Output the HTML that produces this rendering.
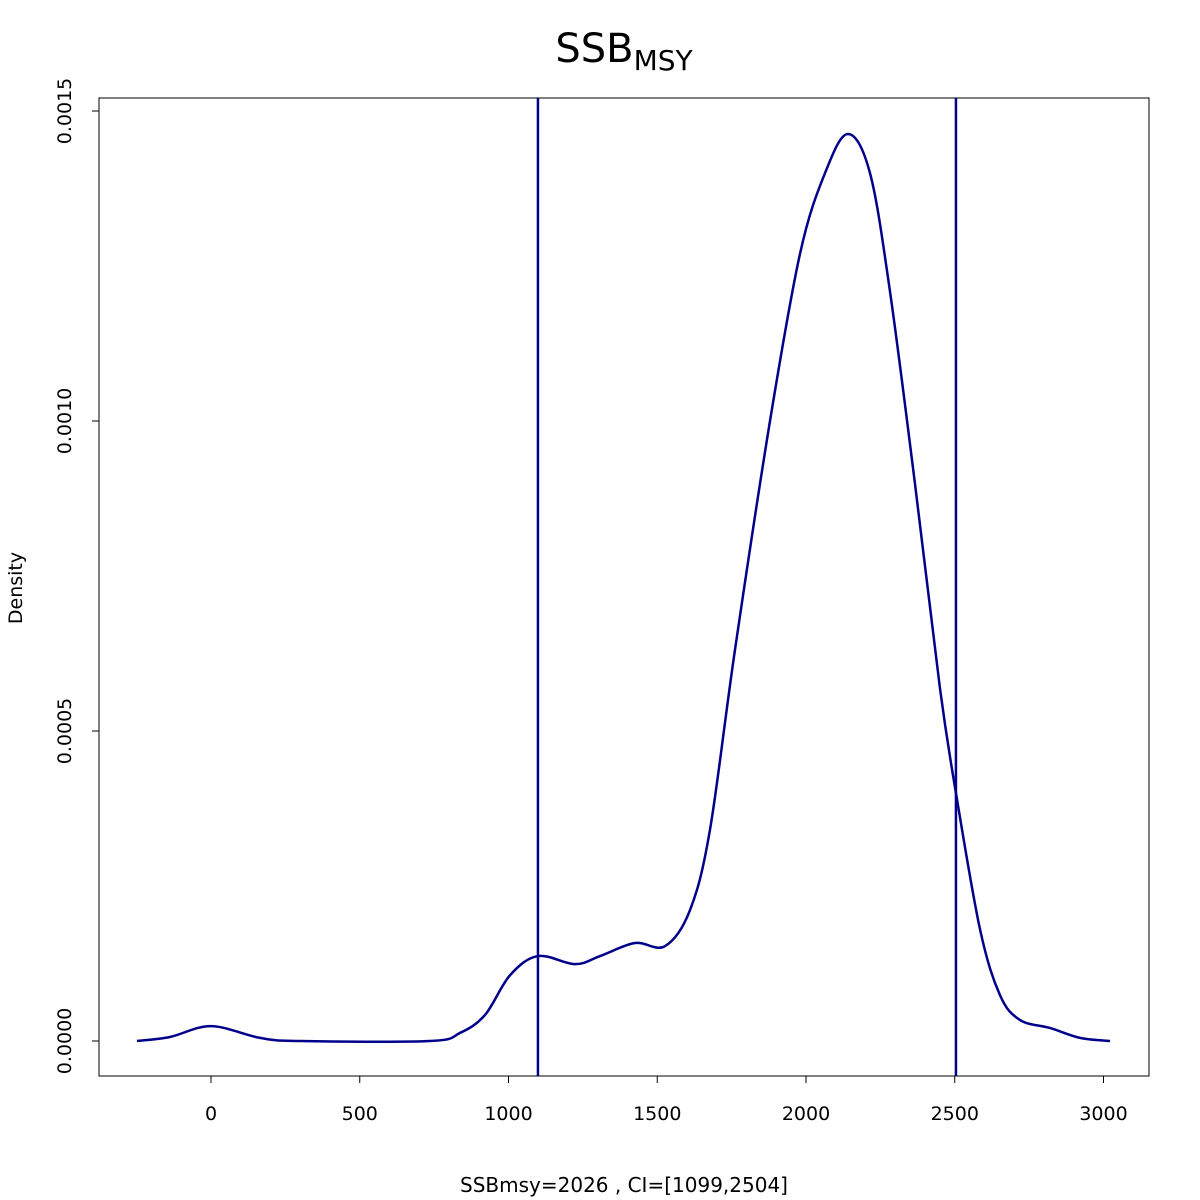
<!DOCTYPE html>
<html><head><meta charset="utf-8"><style>
body{margin:0;background:#fff;}
svg{display:block;font-family:"DejaVu Sans","Liberation Sans",sans-serif;}
</style></head><body>
<svg id="chart" width="1200" height="1200" xmlns="http://www.w3.org/2000/svg">
<text x="624" y="62" text-anchor="middle" font-size="40">SSB<tspan font-size="28" dy="8">MSY</tspan></text>
<rect x="99" y="98" width="1050" height="978" fill="none" stroke="#000" stroke-width="1"/>
<g id="xaxis"></g>
<g id="yaxis"></g>
<g id="series"></g>
<text x="624" y="1192" text-anchor="middle" font-size="20">SSBmsy=2026 , CI=[1099,2504]</text>
<text transform="translate(22,588) rotate(-90)" text-anchor="middle" font-size="19">Density</text>
</svg>
<script>
const xTicks=[0,500,1000,1500,2000,2500,3000];
const yTicks=[0,0.0005,0.0010,0.0015];
const yTickLabels=["0.0000","0.0005","0.0010","0.0015"];
const ciLines=[1099,2504];
const xs=[-249,-138,0,165,300,736,837,921,1005,1099,1224,1308,1425,1526,1610,1677,1761,1879,1980,2064,2141,2215,2282,2366,2450,2504,2585,2652,2719,2820,2921,3022];
const ys=[0,0.0000065,0.000024,0.000005,0,0,0.000013,0.000042,0.000106,0.000137,0.000124,0.000137,0.000158,0.000153,0.000211,0.00034,0.00063,0.00100,0.00127,0.00140,0.001463,0.00140,0.00121,0.00090,0.00057,0.00040,0.00018,0.000074,0.000034,0.000021,0.000005,0];
const NS="http://www.w3.org/2000/svg";
function X(v){return 211+v*0.2975;}
function Y(d){return 1041-d/0.0005*310;}
function mk(tag,attrs,parent){const e=document.createElementNS(NS,tag);for(const k in attrs)e.setAttribute(k,attrs[k]);parent.appendChild(e);return e;}
const xa=document.getElementById('xaxis'),ya=document.getElementById('yaxis'),sr=document.getElementById('series');
mk('line',{x1:X(xTicks[0]),x2:X(xTicks[xTicks.length-1]),y1:1076,y2:1076,stroke:'#000'},xa);
xTicks.forEach(t=>{
  const l=mk('line',{x1:X(t),x2:X(t),y1:1076,y2:1083,stroke:'#000'},xa);
  
  
  const tx=mk('text',{x:X(t),y:1120,'text-anchor':'middle','font-size':19},xa);
  tx.textContent=t;
  
  
});
mk('line',{x1:99,x2:99,y1:Y(yTicks[0]),y2:Y(yTicks[yTicks.length-1]),stroke:'#000'},ya);
yTicks.forEach((t,i)=>{
  const l=mk('line',{x1:92,x2:99,y1:Y(t),y2:Y(t),stroke:'#000'},ya);
  
  
  const tx=mk('text',{transform:`translate(71,${Y(t)}) rotate(-90)`,'text-anchor':'middle','font-size':19},ya);
  tx.textContent=yTickLabels[i];
  
  
});
const P=xs.map((v,i)=>[X(v),Y(ys[i])]);
let d=`M${P[0][0]},${P[0][1]}`;
for(let i=0;i<P.length-1;i++){
  const p0=P[Math.max(0,i-1)],p1=P[i],p2=P[i+1],p3=P[Math.min(P.length-1,i+2)];
  const c1=[p1[0]+(p2[0]-p0[0])/6,p1[1]+(p2[1]-p0[1])/6];
  const c2=[p2[0]-(p3[0]-p1[0])/6,p2[1]-(p3[1]-p1[1])/6];
  d+=` C${c1[0]},${c1[1]} ${c2[0]},${c2[1]} ${p2[0]},${p2[1]}`;
}
const path=mk('path',{d:d,fill:'none',stroke:'#00008B','stroke-width':2.5},sr);


ciLines.forEach(c=>{
  const l=mk('line',{x1:X(c),x2:X(c),y1:98,y2:1076,stroke:'#00008B','stroke-width':2.5},sr);
  
  
});
</script>
</body></html>
